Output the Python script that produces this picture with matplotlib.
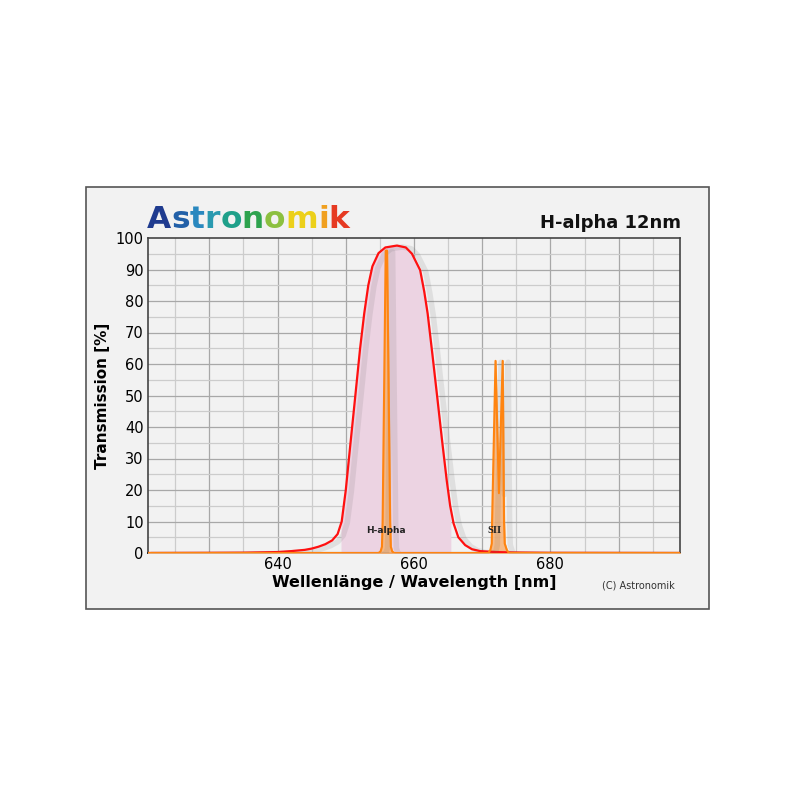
import matplotlib
matplotlib.use("Agg")
import matplotlib.pyplot as plt
import matplotlib.patheffects as pe
from matplotlib.patches import Rectangle
import numpy as np

# filter transmission curve (nm, %)
filter_nm = [621, 630, 635, 640, 642, 644, 645, 646, 647, 648, 648.8, 649.4, 650.0,
             650.6, 651.4, 652.1, 652.7, 653.3, 653.9, 654.8, 655.8, 657.5, 658.8,
             659.7, 660.9, 661.5, 662.0, 662.7, 663.4, 664.1, 664.8, 665.3, 665.8,
             666.5, 667.5, 668.5, 669.7, 672, 675, 680, 699]
filter_T = [0, 0.05, 0.1, 0.3, 0.6, 1.0, 1.4, 2.0, 2.8, 4.0, 6.0, 10, 20,
            33, 50, 65, 76, 85, 91, 95.2, 97, 97.6, 97,
            95, 89.8, 83, 76, 63, 49.6, 36, 23, 15, 9.4,
            5, 2.5, 1.2, 0.6, 0.3, 0.15, 0.05, 0]

# emission lines (H-alpha and SII doublet)
em_nm = [621, 654.8, 655.1, 655.3, 655.4, 655.85, 656.05, 656.5, 656.6, 656.8, 657.1,
         670.9, 671.2, 671.4, 671.45, 671.95, 672.45, 673.0, 673.2, 673.3, 673.6, 673.9, 699]
em_T = [0, 0, 0.5, 2, 10, 96, 96, 10, 2, 0.5, 0,
        0, 1, 3, 10, 61, 19, 61, 10, 3, 1, 0, 0]

line_labels = ["H-alpha", "SII"]
line_label_x = [655.9, 671.8]

xticks = [640, 660, 680]
yticks = list(range(0, 101, 10))

fig = plt.figure(figsize=(8, 8), dpi=100)
fig.patch.set_facecolor("white")

panel = Rectangle((0.1075, 0.23875), 0.77875, 0.5275, transform=fig.transFigure,
                  facecolor="#f2f2f2", edgecolor="#555555", linewidth=1.2, zorder=-10)
fig.patches.append(panel)

ax = fig.add_axes([0.185, 0.30875, 0.665, 0.39375])
ax.set_facecolor("#f2f2f2")
ax.set_xlim(621, 699)
ax.set_ylim(0, 100)

# grid
for x in range(625, 699, 5):
    ax.axvline(x, color="#a8a8a8" if x % 10 == 0 else "#cccccc", lw=0.9, zorder=1)
for y in range(5, 100, 5):
    ax.axhline(y, color="#a8a8a8" if y % 10 == 0 else "#cccccc", lw=0.9, zorder=1)

shadow = [pe.SimpleLineShadow(offset=(4, -1), shadow_color="0.4", alpha=0.13, linewidth=4),
          pe.Normal()]

fx = np.array(filter_nm)
ax.fill_between(filter_nm, filter_T, where=(fx >= 649.4) & (fx <= 665.3),
                color="#ecd3e2", zorder=2)
ax.plot(filter_nm, filter_T, color="#ff1010", lw=1.6, zorder=4, path_effects=shadow)

ax.fill_between(em_nm, em_T, color="#f7b47a", alpha=0.9, zorder=3)
ax.plot(em_nm, em_T, color="#ff8410", lw=1.5, zorder=5, path_effects=shadow)

ax.text(line_label_x[0], 7, line_labels[0], ha="center", va="center", fontsize=6.5,
        fontweight="bold", color="#222222", zorder=6)
ax.text(line_label_x[1], 7, line_labels[1], ha="center", va="center", fontsize=7.5,
        fontweight="bold", family="Liberation Serif", color="#222222", zorder=6)

ax.set_xticks(xticks)
ax.set_yticks(yticks)
ax.tick_params(length=0, labelsize=10.5, pad=3)
for s in ax.spines.values():
    s.set_color("#444444")
    s.set_linewidth(1.2)
ax.spines["bottom"].set_color("#111111")

ax.set_xlabel("Wellenlänge / Wavelength [nm]", fontsize=11.5, fontweight="bold", labelpad=2)
ax.set_ylabel("Transmission [%]", fontsize=11, fontweight="bold", labelpad=4)

# logo, one colour per letter
logo = "Astronomik"
logo_colors = ["#1f3b8f", "#2260a8", "#2a88bf", "#2a9ab0", "#1fa08a", "#2ea34e",
               "#8cc040", "#ecd01a", "#f0a020", "#e63a22"]
t = fig.text(0.184, 0.715, logo[0], color=logo_colors[0], fontsize=22.5,
             fontweight="heavy", va="baseline")
for ch, c in zip(logo[1:], logo_colors[1:]):
    t = ax.annotate(ch, xy=(1, 0), xycoords=t, va="bottom", ha="left", color=c,
                    fontsize=22.5, fontweight="heavy", annotation_clip=False)

fig.text(0.851, 0.715, "H-alpha 12nm", ha="right", va="baseline", fontsize=13,
         fontweight="bold", color="#111111")
fig.text(0.843, 0.268, "(C) Astronomik", ha="right", va="center", fontsize=7,
         color="#333333")

fig.savefig("out.png", dpi=100)
